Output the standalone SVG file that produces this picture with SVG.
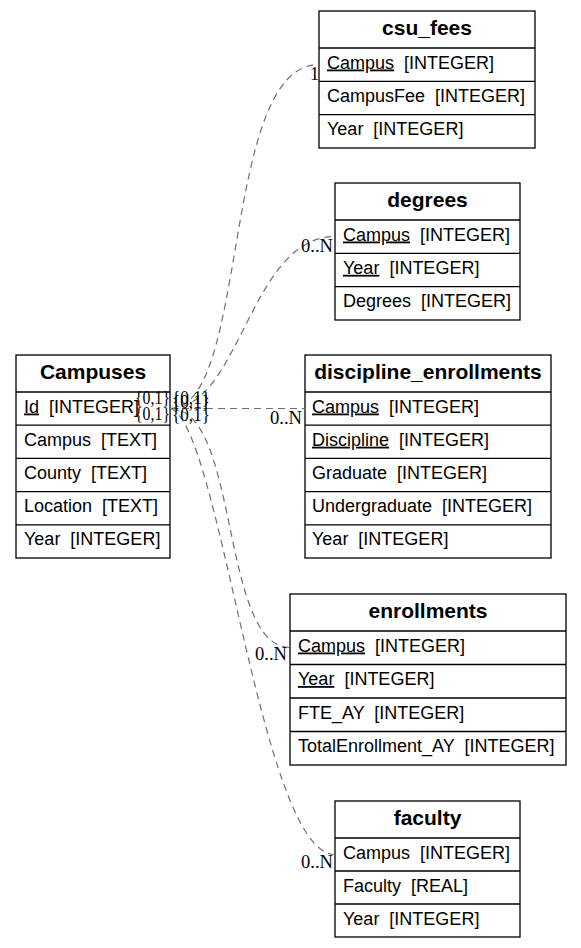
<svg xmlns="http://www.w3.org/2000/svg" width="581" height="948" viewBox="0 0 581 948" xml:space="preserve">
<style>
.box{fill:#fff;stroke:#000;stroke-width:1.3}
.ln{stroke:#000;stroke-width:1.3}
.hd{font-family:"Liberation Sans",Arial,sans-serif;font-size:21px;font-weight:bold;text-anchor:middle;fill:#000}
.tx{font-family:"Liberation Sans",Arial,sans-serif;font-size:18px;fill:#000;white-space:pre}
.u{text-decoration:underline}
.edge{fill:none;stroke:#707070;stroke-width:1.2;stroke-dasharray:7,5}
.el{font-family:"Liberation Serif","Times New Roman",serif;font-size:18px;fill:#000}
</style>
<rect width="581" height="948" fill="#fff"/>
<g id="Campuses">
<rect class="box" x="16" y="355" width="154" height="203"/>
<line class="ln" x1="16" y1="392" x2="170" y2="392"/>
<line class="ln" x1="16" y1="425.2" x2="170" y2="425.2"/>
<line class="ln" x1="16" y1="458.4" x2="170" y2="458.4"/>
<line class="ln" x1="16" y1="491.6" x2="170" y2="491.6"/>
<line class="ln" x1="16" y1="524.8" x2="170" y2="524.8"/>
<text class="hd" x="93" y="379">Campuses</text>
<text class="tx" x="24" y="412.5"><tspan class="u">Id</tspan>  [INTEGER]</text>
<text class="tx" x="24" y="445.7">Campus  [TEXT]</text>
<text class="tx" x="24" y="478.9">County  [TEXT]</text>
<text class="tx" x="24" y="512.1">Location  [TEXT]</text>
<text class="tx" x="24" y="545.3">Year  [INTEGER]</text>
</g>
<g id="csu_fees">
<rect class="box" x="319" y="11" width="216" height="137"/>
<line class="ln" x1="319" y1="48" x2="535" y2="48"/>
<line class="ln" x1="319" y1="81.3" x2="535" y2="81.3"/>
<line class="ln" x1="319" y1="114.6" x2="535" y2="114.6"/>
<text class="hd" x="427" y="35">csu_fees</text>
<text class="tx" x="327" y="68.5"><tspan class="u">Campus</tspan>  [INTEGER]</text>
<text class="tx" x="327" y="101.8">CampusFee  [INTEGER]</text>
<text class="tx" x="327" y="135.1">Year  [INTEGER]</text>
</g>
<g id="degrees">
<rect class="box" x="335" y="183" width="185" height="137"/>
<line class="ln" x1="335" y1="220" x2="520" y2="220"/>
<line class="ln" x1="335" y1="253.3" x2="520" y2="253.3"/>
<line class="ln" x1="335" y1="286.6" x2="520" y2="286.6"/>
<text class="hd" x="427.5" y="207">degrees</text>
<text class="tx" x="343" y="240.5"><tspan class="u">Campus</tspan>  [INTEGER]</text>
<text class="tx" x="343" y="273.8"><tspan class="u">Year</tspan>  [INTEGER]</text>
<text class="tx" x="343" y="307.1">Degrees  [INTEGER]</text>
</g>
<g id="discipline_enrollments">
<rect class="box" x="305" y="355" width="246" height="203"/>
<line class="ln" x1="305" y1="392" x2="551" y2="392"/>
<line class="ln" x1="305" y1="425.2" x2="551" y2="425.2"/>
<line class="ln" x1="305" y1="458.4" x2="551" y2="458.4"/>
<line class="ln" x1="305" y1="491.6" x2="551" y2="491.6"/>
<line class="ln" x1="305" y1="524.8" x2="551" y2="524.8"/>
<text class="hd" x="428" y="379">discipline_enrollments</text>
<text class="tx" x="312" y="412.5"><tspan class="u">Campus</tspan>  [INTEGER]</text>
<text class="tx" x="312" y="445.7"><tspan class="u">Discipline</tspan>  [INTEGER]</text>
<text class="tx" x="312" y="478.9">Graduate  [INTEGER]</text>
<text class="tx" x="312" y="512.1">Undergraduate  [INTEGER]</text>
<text class="tx" x="312" y="545.3">Year  [INTEGER]</text>
</g>
<g id="enrollments">
<rect class="box" x="290" y="594" width="276" height="171"/>
<line class="ln" x1="290" y1="631" x2="566" y2="631"/>
<line class="ln" x1="290" y1="664.5" x2="566" y2="664.5"/>
<line class="ln" x1="290" y1="698" x2="566" y2="698"/>
<line class="ln" x1="290" y1="731.5" x2="566" y2="731.5"/>
<text class="hd" x="428" y="618">enrollments</text>
<text class="tx" x="298" y="651.5"><tspan class="u">Campus</tspan>  [INTEGER]</text>
<text class="tx" x="298" y="685"><tspan class="u">Year</tspan>  [INTEGER]</text>
<text class="tx" x="298" y="718.5">FTE_AY  [INTEGER]</text>
<text class="tx" x="298" y="752">TotalEnrollment_AY  [INTEGER]</text>
</g>
<g id="faculty">
<rect class="box" x="335" y="801" width="185" height="136"/>
<line class="ln" x1="335" y1="838" x2="520" y2="838"/>
<line class="ln" x1="335" y1="871" x2="520" y2="871"/>
<line class="ln" x1="335" y1="904" x2="520" y2="904"/>
<text class="hd" x="427.5" y="825">faculty</text>
<text class="tx" x="343" y="858.5">Campus  [INTEGER]</text>
<text class="tx" x="343" y="891.5">Faculty  [REAL]</text>
<text class="tx" x="343" y="924.5">Year  [INTEGER]</text>
</g>
<g id="connectors">
<path class="edge" d="M170,408.5 C250,408.5 220,64.5 319,64.5"/>
<path class="edge" d="M170,408.5 C240,408.5 250,236.5 335,236.5"/>
<path class="edge" d="M170,408.5 L305,408.5"/>
<path class="edge" d="M170,408.5 C240,408.5 220,647.5 290,647.5"/>
<path class="edge" d="M170,408.5 C220,420 260,854.5 335,854.5"/>
<text class="el" x="135" y="404" textLength="35" lengthAdjust="spacingAndGlyphs">{0,1}</text>
<text class="el" x="135" y="420" textLength="35" lengthAdjust="spacingAndGlyphs">{0,1}</text>
<text class="el" x="172" y="404" textLength="38" lengthAdjust="spacingAndGlyphs">{0,1}</text>
<text class="el" x="172" y="408" textLength="38" lengthAdjust="spacingAndGlyphs">{0,1}</text>
<text class="el" x="172" y="421" textLength="38" lengthAdjust="spacingAndGlyphs">{0,1}</text>
<text class="el" x="310" y="80">1</text>
<text class="el" x="301" y="252" textLength="32" lengthAdjust="spacingAndGlyphs">0..N</text>
<text class="el" x="270" y="424" textLength="32" lengthAdjust="spacingAndGlyphs">0..N</text>
<text class="el" x="255" y="660" textLength="32" lengthAdjust="spacingAndGlyphs">0..N</text>
<text class="el" x="301" y="868" textLength="32" lengthAdjust="spacingAndGlyphs">0..N</text>
</g>
</svg>
